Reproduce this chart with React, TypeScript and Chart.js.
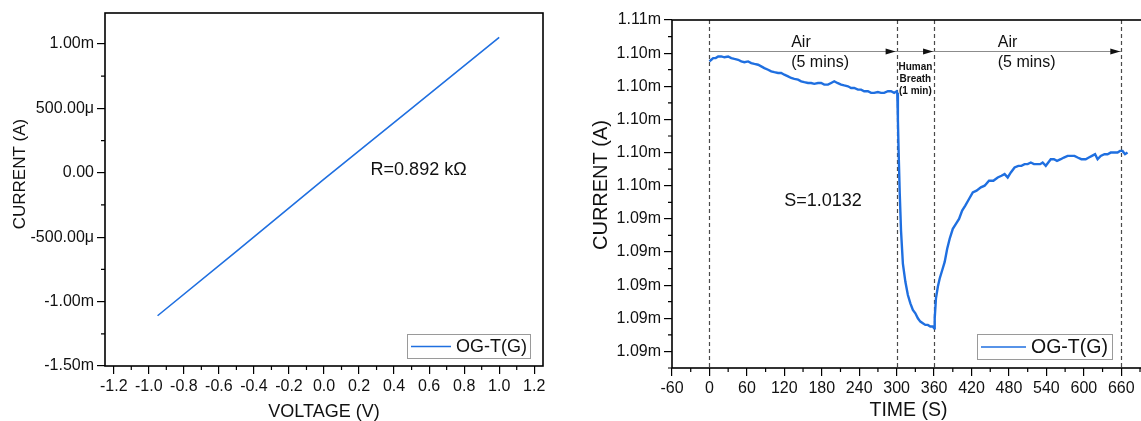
import React, { useEffect, useRef } from 'react';
import { Chart, registerables } from 'chart.js';

Chart.register(...registerables);

const FONT = '"Liberation Sans", Arial, Helvetica, sans-serif';
const BLUE = '#1f6fe0';
const SERIES_NAME = 'OG-T(G)';

// ---- I–V sweep (current in mA) ----
const ivVoltage = [-0.95, -0.5, 0.0, 0.5, 1.0];
const ivCurrent = [-1.11, -0.61, -0.05, 0.5, 1.05];
const ivXTicks = [-1.2, -1.0, -0.8, -0.6, -0.4, -0.2, 0, 0.2, 0.4, 0.6, 0.8, 1.0, 1.2];
const ivXMinor = [-1.1, -0.9, -0.7, -0.5, -0.3, -0.1, 0.1, 0.3, 0.5, 0.7, 0.9, 1.1];
const ivYTicks = [-1.5, -1.0, -0.5, 0, 0.5, 1.0];
const ivYMinor = [-1.25, -0.75, -0.25, 0.25, 0.75];
const ivNote = 'R=0.892 kΩ';

// ---- transient response to breath (time in s, current in mA) ----
const tTime = [
  0, 3, 6, 10, 14, 19, 24, 30, 35, 40, 46, 51, 56, 62, 67, 72, 78, 83, 88, 94,
  99, 104, 110, 115, 120, 126, 131, 136, 142, 147, 152, 158, 163, 168, 174, 179, 184, 190, 195, 200,
  205, 211, 216, 222, 227, 232, 238, 243, 248, 254, 259, 264, 270, 275, 280, 286, 291, 296, 300, 301,
  302, 303, 305, 307, 310, 314, 318, 322, 326, 330, 334, 338, 342, 346, 350, 354, 358, 360, 361, 363,
  366, 369, 373, 377, 381, 385, 390, 395, 400, 405, 410, 416, 422, 428, 435, 441, 448, 455, 462, 468,
  473, 478, 483, 489, 495, 500, 505, 510, 515, 520, 526, 530, 534, 539, 543, 547, 552, 557, 563, 568,
  574, 580, 585, 590, 596, 603, 608, 613, 618, 622, 627, 633, 638, 643, 649, 654, 658, 662, 666, 670,
];
const tCurrent = [
  1.1035, 1.1036, 1.1037, 1.1037, 1.1038, 1.1038, 1.10375, 1.1038, 1.1037, 1.10365, 1.1036, 1.1035, 1.10345, 1.1035, 1.1034, 1.10335, 1.1033, 1.1032, 1.1031, 1.103,
  1.1029, 1.10285, 1.1028, 1.1028, 1.1027, 1.1026, 1.1025, 1.10245, 1.1024, 1.1023, 1.10225, 1.1022, 1.1022, 1.10215, 1.1022, 1.1022, 1.1021, 1.1021, 1.1022, 1.1023,
  1.1022, 1.1021, 1.10205, 1.102, 1.1019, 1.1019, 1.1018, 1.1018, 1.1017, 1.1017, 1.1016, 1.1016, 1.10165, 1.1016, 1.1016, 1.1017, 1.1017, 1.1016, 1.1017, 1.1016,
  1.1, 1.0983, 1.0955, 1.0933, 1.0913, 1.0902, 1.0894, 1.0889, 1.0885, 1.0883, 1.088, 1.0878, 1.0877, 1.0876, 1.0876, 1.0875, 1.0875, 1.0874, 1.088, 1.0892,
  1.0899, 1.0904, 1.0909, 1.0914, 1.0922, 1.0928, 1.0934, 1.0937, 1.094, 1.0945, 1.0948, 1.0952, 1.0956, 1.0957, 1.0959, 1.096, 1.0963, 1.0963, 1.0965, 1.0966,
  1.0967, 1.0965, 1.0968, 1.0971, 1.0972, 1.0972, 1.0973, 1.0973, 1.0974, 1.0973, 1.0973, 1.0973, 1.0974, 1.0972, 1.0974, 1.0976, 1.0976, 1.0975, 1.0976, 1.0977,
  1.0978, 1.0978, 1.0978, 1.0977, 1.0976, 1.0976, 1.0977, 1.0978, 1.0979, 1.0976, 1.0978, 1.0979, 1.0979, 1.098, 1.098, 1.098, 1.0981, 1.0981, 1.0979, 1.098,
];
const tXTicks = [-60, 0, 60, 120, 180, 240, 300, 360, 420, 480, 540, 600, 660];
const tXMinor = [-30, 30, 90, 150, 210, 270, 330, 390, 450, 510, 570, 630, 690];
const tYTicks = [1.086, 1.088, 1.09, 1.092, 1.094, 1.096, 1.098, 1.1, 1.102, 1.104, 1.106];
const tYMinor = [1.085, 1.087, 1.089, 1.091, 1.093, 1.095, 1.097, 1.099, 1.101, 1.103, 1.105];
const phaseBounds = [0, 300, 360, 660];
const phaseLabels = [
  { t: 131, lines: ['Air', '(5 mins)'] },
  { t: 462, lines: ['Air', '(5 mins)'] },
];
const breathLabel = ['Human', 'Breath', '(1 min)'];
const sensNote = 'S=1.0132';

function fmtSmallCurrent(v: number): string {
  const r = Math.round(v * 1000) / 1000;
  if (r === 0) return '0.00';
  if (Math.abs(r) >= 1) return r.toFixed(2) + 'm';
  return (r * 1000).toFixed(2) + 'μ';
}

function axis(min: number, max: number, ticks: number[], fmt: (v: number) => string, size: (s: any) => void) {
  return {
    type: 'linear',
    min,
    max,
    afterBuildTicks: (s: any) => {
      s.ticks = ticks.map((v) => ({ value: v }));
    },
    afterFit: size,
    grid: { drawOnChartArea: false, drawTicks: true, tickLength: 8, color: '#000', lineWidth: 1.2 },
    border: { display: false },
    ticks: {
      color: '#111',
      font: { family: FONT, size: 16 },
      padding: 3,
      autoSkip: false,
      maxRotation: 0,
      callback: (v: any) => fmt(Number(v)),
    },
  };
}

function drawFrame(chart: any, xMinor: number[], yMinor: number[]) {
  const { ctx, chartArea: ca, scales } = chart;
  ctx.save();
  ctx.strokeStyle = '#000';
  ctx.lineWidth = 1.2;
  ctx.beginPath();
  xMinor.forEach((v) => {
    const p = scales.x.getPixelForValue(v);
    if (p < ca.left - 0.5 || p > ca.right + 0.5) return;
    ctx.moveTo(p, ca.bottom);
    ctx.lineTo(p, ca.bottom + 4);
  });
  yMinor.forEach((v) => {
    const p = scales.y.getPixelForValue(v);
    if (p < ca.top - 0.5 || p > ca.bottom + 0.5) return;
    ctx.moveTo(ca.left, p);
    ctx.lineTo(ca.left - 4, p);
  });
  ctx.stroke();
  ctx.lineWidth = 1.6;
  ctx.strokeRect(ca.left, ca.top, ca.right - ca.left, ca.bottom - ca.top);
  ctx.restore();
}

function drawLegend(chart: any, right: number, bottom: number, w: number, h: number, lineLen: number, fontSize: number) {
  const { ctx } = chart;
  const x0 = right - w;
  const y0 = bottom - h;
  ctx.save();
  ctx.fillStyle = '#fff';
  ctx.fillRect(x0, y0, w, h);
  ctx.strokeStyle = '#9a9a9a';
  ctx.lineWidth = 1;
  ctx.strokeRect(x0 + 0.5, y0 + 0.5, w, h);
  ctx.strokeStyle = BLUE;
  ctx.lineWidth = 1.6;
  ctx.beginPath();
  ctx.moveTo(x0 + 4, y0 + h / 2 + 0.5);
  ctx.lineTo(x0 + 4 + lineLen, y0 + h / 2 + 0.5);
  ctx.stroke();
  ctx.fillStyle = '#111';
  ctx.font = `${fontSize}px ${FONT}`;
  ctx.textAlign = 'left';
  ctx.textBaseline = 'middle';
  ctx.fillText(SERIES_NAME, x0 + lineLen + 9, y0 + h / 2 + 1);
  ctx.restore();
}

function drawTitles(chart: any, yTitle: string, yx: number, yy: number, ySize: number, xTitle: string, xx: number, xy: number, xSize: number) {
  const { ctx } = chart;
  ctx.save();
  ctx.fillStyle = '#111';
  ctx.textAlign = 'center';
  ctx.textBaseline = 'middle';
  ctx.font = `${xSize}px ${FONT}`;
  ctx.fillText(xTitle, xx, xy);
  ctx.translate(yx, yy);
  ctx.rotate(-Math.PI / 2);
  ctx.font = `${ySize}px ${FONT}`;
  ctx.fillText(yTitle, 0, 0);
  ctx.restore();
}

function ivConfig(): any {
  const decorations = {
    id: 'ivDecorations',
    afterDraw(chart: any) {
      const { ctx, chartArea: ca, scales } = chart;
      drawFrame(chart, ivXMinor, ivYMinor);
      drawLegend(chart, ca.right - 13, ca.bottom - 8, 123, 24, 40, 18);
      drawTitles(chart, 'CURRENT (A)', 20, 174, 17, 'VOLTAGE (V)', (ca.left + ca.right) / 2, 412, 18);
      ctx.save();
      ctx.fillStyle = '#111';
      ctx.font = `18px ${FONT}`;
      ctx.textAlign = 'center';
      ctx.textBaseline = 'middle';
      ctx.fillText(ivNote, scales.x.getPixelForValue(0.54), scales.y.getPixelForValue(0.02));
      ctx.restore();
    },
  };
  return {
    type: 'scatter',
    data: {
      datasets: [
        {
          label: SERIES_NAME,
          data: ivVoltage.map((v, i) => ({ x: v, y: ivCurrent[i] })),
          showLine: true,
          borderColor: BLUE,
          borderWidth: 1.6,
          pointRadius: 0,
          tension: 0,
        },
      ],
    },
    options: {
      responsive: false,
      animation: false,
      devicePixelRatio: 1,
      layout: { padding: { left: 0, top: 13, right: 17, bottom: 0 } },
      plugins: { legend: { display: false }, tooltip: { enabled: false } },
      scales: {
        x: axis(-1.25, 1.25, ivXTicks, (v) => v.toFixed(1), (s: any) => { s.height = 55; }),
        y: axis(-1.5, 1.24, ivYTicks, fmtSmallCurrent, (s: any) => { s.width = 105; }),
      },
    },
    plugins: [decorations],
  };
}

function transientConfig(): any {
  const decorations = {
    id: 'transientDecorations',
    beforeDatasetsDraw(chart: any) {
      const { ctx, chartArea: ca, scales } = chart;
      ctx.save();
      ctx.strokeStyle = '#4a4a4a';
      ctx.lineWidth = 1.2;
      ctx.setLineDash([4, 3]);
      ctx.beginPath();
      phaseBounds.forEach((t) => {
        const p = Math.round(scales.x.getPixelForValue(t)) + 0.5;
        ctx.moveTo(p, ca.top);
        ctx.lineTo(p, ca.bottom);
      });
      ctx.stroke();
      ctx.restore();
    },
    afterDraw(chart: any) {
      const { ctx, chartArea: ca, scales } = chart;
      const x = scales.x;
      const y = scales.y;
      drawFrame(chart, tXMinor, tYMinor);
      drawLegend(chart, ca.right - 33, ca.bottom - 9, 135, 25, 45, 19.5);
      drawTitles(chart, 'CURRENT (A)', 41, 185, 20, 'TIME (S)', (ca.left + ca.right) / 2, 411, 19.5);

      // phase arrows
      const ay = Math.round(y.getPixelForValue(1.10412)) + 0.5;
      ctx.save();
      ctx.strokeStyle = '#8c8c8c';
      ctx.lineWidth = 1;
      ctx.beginPath();
      ctx.moveTo(x.getPixelForValue(phaseBounds[0]), ay);
      ctx.lineTo(x.getPixelForValue(phaseBounds[3]), ay);
      ctx.stroke();
      ctx.fillStyle = '#111';
      phaseBounds.slice(1).forEach((t) => {
        const tip = x.getPixelForValue(t) - 1;
        ctx.beginPath();
        ctx.moveTo(tip, ay);
        ctx.lineTo(tip - 10, ay - 3);
        ctx.lineTo(tip - 10, ay + 3);
        ctx.closePath();
        ctx.fill();
      });

      // phase captions
      ctx.font = `16px ${FONT}`;
      ctx.textAlign = 'left';
      ctx.textBaseline = 'middle';
      phaseLabels.forEach((p) => {
        const px = x.getPixelForValue(p.t);
        ctx.fillText(p.lines[0], px, y.getPixelForValue(1.10461));
        ctx.fillText(p.lines[1], px, y.getPixelForValue(1.10345));
      });
      ctx.font = `bold 10px ${FONT}`;
      ctx.textAlign = 'center';
      const bx = x.getPixelForValue(330);
      const rows = [1.10315, 1.10242, 1.1017];
      breathLabel.forEach((s, i) => ctx.fillText(s, bx, y.getPixelForValue(rows[i])));

      ctx.font = `18px ${FONT}`;
      ctx.fillText(sensNote, x.getPixelForValue(182), y.getPixelForValue(1.09509));
      ctx.restore();
    },
  };
  return {
    type: 'scatter',
    data: {
      datasets: [
        {
          label: SERIES_NAME,
          data: tTime.map((t, i) => ({ x: t, y: tCurrent[i] })),
          showLine: true,
          borderColor: BLUE,
          borderWidth: 2.4,
          pointRadius: 0,
          tension: 0,
        },
      ],
    },
    options: {
      responsive: false,
      animation: false,
      devicePixelRatio: 1,
      layout: { padding: { left: 0, top: 20, right: 5, bottom: 0 } },
      plugins: { legend: { display: false }, tooltip: { enabled: false } },
      scales: {
        x: axis(-60, 698, tXTicks, (v) => String(Math.round(v)), (s: any) => { s.height = 53; }),
        y: axis(1.085, 1.106, tYTicks, (v) => v.toFixed(2) + 'm', (s: any) => { s.width = 112; }),
      },
    },
    plugins: [decorations],
  };
}

function ChartCanvas({ make, left, width }: { make: () => any; left: number; width: number }) {
  const ref = useRef<HTMLCanvasElement | null>(null);
  useEffect(() => {
    if (!ref.current) return;
    const chart = new Chart(ref.current, make());
    return () => chart.destroy();
  }, [make]);
  return (
    <canvas
      ref={ref}
      width={width}
      height={421}
      style={{ position: 'absolute', left, top: 0, width, height: 421 }}
    />
  );
}

export default function App() {
  return (
    <div
      style={{
        position: 'fixed',
        left: 0,
        top: 0,
        width: 1141,
        height: 421,
        overflow: 'hidden',
        background: '#fff',
      }}
    >
      <ChartCanvas make={ivConfig} left={0} width={560} />
      <ChartCanvas make={transientConfig} left={560} width={590} />
    </div>
  );
}
